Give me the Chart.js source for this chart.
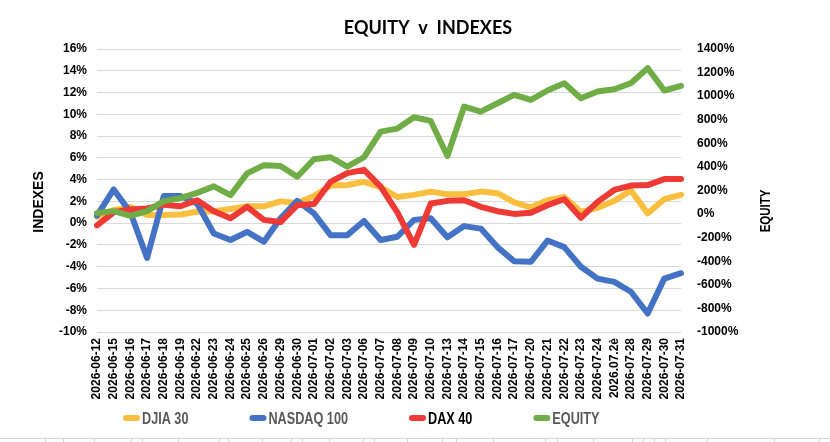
<!DOCTYPE html>
<html>
<head>
<meta charset="utf-8">
<script src="https://cdn.jsdelivr.net/npm/chart.js@4.4.1/dist/chart.umd.min.js"></script>
<style>
html,body{margin:0;padding:0;background:#ffffff;}
#wrap{width:830px;height:442px;position:relative;}
</style>
</head>
<body>
<div id="wrap"><canvas id="c"></canvas></div>
<script>
const categories = ["2026-06-12","2026-06-15","2026-06-16","2026-06-17","2026-06-18","2026-06-19","2026-06-22","2026-06-23","2026-06-24","2026-06-25","2026-06-26","2026-06-29","2026-06-30","2026-07-01","2026-07-02","2026-07-03","2026-07-06","2026-07-07","2026-07-08","2026-07-09","2026-07-10","2026-07-13","2026-07-14","2026-07-15","2026-07-16","2026-07-17","2026-07-20","2026-07-21","2026-07-22","2026-07-23","2026-07-24","2026.07.2è","2026-07-28","2026-07-29","2026-07-30","2026-07-31"];
const djia   = [0.6,1.2,1.5,0.75,0.75,0.8,1.05,1.1,1.3,1.55,1.55,2.0,1.85,2.5,3.45,3.5,3.8,3.3,2.4,2.6,2.9,2.65,2.65,2.9,2.75,1.9,1.45,2.1,2.4,1.05,1.4,2.05,3.0,0.9,2.2,2.6];
const nasdaq = [0.7,3.1,1.0,-3.2,2.5,2.5,1.8,-0.95,-1.55,-0.8,-1.7,0.45,2.05,0.9,-1.1,-1.1,0.2,-1.55,-1.25,0.3,0.45,-1.3,-0.27,-0.5,-2.2,-3.5,-3.55,-1.6,-2.2,-4.0,-5.1,-5.4,-6.3,-8.3,-5.1,-4.6];
const dax    = [-0.2,1.0,1.25,1.35,1.7,1.55,2.1,1.1,0.45,1.5,0.3,0.1,1.65,1.75,3.8,4.6,4.9,3.35,1.0,-2.0,1.8,2.05,2.1,1.5,1.1,0.85,0.95,1.65,2.2,0.5,1.95,3.05,3.45,3.5,4.05,4.05];
const equity = [10,25,-15,25,110,135,180,235,160,345,415,408,317,465,482,402,482,699,725,821,790,493,912,869,940,1011,968,1048,1110,983,1039,1059,1110,1238,1048,1088];
const seriesNames = ["DJIA 30","NASDAQ 100","DAX 40","EQUITY"];
const indexAxis  = {min:-10, max:16, step:2};       // left axis, %
const equityAxis = {min:-1000, max:1400, step:200}; // right axis, %
const chartTitle = "EQUITY  v  INDEXES";
const leftTitle = "INDEXES";
const rightTitle = "EQUITY";

// spreadsheet cell borders visible at the very bottom of the picture (decoration)
const sheetBorderX = [44.5,62.5,94.2,130.7,141.9,178.4,218.6,228.1,261.5,290.6,302.2,329.2,362.6,374.2,407,442,455.7,492.8,544.7,556.8,592.8,632,643.1,653.7,664.8,707.1,773.8,819.4];

const FONT = "'Liberation Sans', Arial, sans-serif";

const legendTextColors = ['#595959','#595959','#000000','#595959'];

const decor = {
  id:'decor',
  afterDraw(chart){
    const ctx = chart.ctx;
    ctx.save();
    // title
    ctx.fillStyle = '#000';
    ctx.font = "bold 18px Lato, 'Open Sans', sans-serif";
    ctx.textAlign = 'center';
    ctx.textBaseline = 'middle';
    ctx.fillText(chartTitle, 428, 28);
    // left axis title
    ctx.save();
    ctx.translate(39, 202);
    ctx.rotate(-Math.PI/2);
    ctx.font = "bold 14px " + FONT;
    ctx.fillText(leftTitle, 0, 0);
    ctx.restore();
    // right axis title (narrow look)
    ctx.save();
    ctx.translate(766, 211);
    ctx.rotate(-Math.PI/2);
    ctx.scale(0.82, 1);
    ctx.font = "bold 14px " + FONT;
    ctx.fillText(rightTitle, 0, 0);
    ctx.restore();
    // legend (narrow look)
    ctx.font = "bold 17px " + FONT;
    ctx.textAlign = 'left';
    const sx = 0.745;
    let x = 123;
    const ly = 418;
    chart.data.datasets.forEach((ds, i) => {
      ctx.strokeStyle = ds.borderColor;
      ctx.lineWidth = 6;
      ctx.lineCap = 'round';
      ctx.beginPath();
      ctx.moveTo(x + 3, ly);
      ctx.lineTo(x + 14, ly);
      ctx.stroke();
      ctx.save();
      ctx.translate(x + 19, ly + 1);
      ctx.scale(sx, 1);
      ctx.fillStyle = legendTextColors[i];
      ctx.fillText(ds.label, 0, 0);
      ctx.restore();
      x += 19 + ctx.measureText(ds.label).width * sx + 61;
    });
    // bottom sheet border
    ctx.strokeStyle = '#d6d6d6';
    ctx.lineWidth = 1;
    ctx.lineCap = 'butt';
    ctx.beginPath();
    ctx.moveTo(0, 438.5); ctx.lineTo(830, 438.5);
    sheetBorderX.forEach(bx => { ctx.moveTo(Math.round(bx)+0.5, 439); ctx.lineTo(Math.round(bx)+0.5, 442); });
    ctx.stroke();
    ctx.restore();
  }
};

const tickFont = {family: FONT, weight:'bold', size:12};

new Chart(document.getElementById('c'), {
  type:'line',
  data:{
    labels: categories,
    datasets:[
      {label:seriesNames[0], data:djia,   borderColor:'#FBBF3F', yAxisID:'y',  order:4},
      {label:seriesNames[1], data:nasdaq, borderColor:'#4472C4', yAxisID:'y',  order:3},
      {label:seriesNames[2], data:dax,    borderColor:'#EE3A35', yAxisID:'y',  order:2},
      {label:seriesNames[3], data:equity, borderColor:'#70AD47', yAxisID:'y1', order:1}
    ]
  },
  options:{
    responsive:true,
    maintainAspectRatio:false,
    animation:false,
    layout:{padding:{top:49, left:0, right:0, bottom:0}},
    elements:{
      line:{borderWidth:6, tension:0, borderJoinStyle:'round', borderCapStyle:'round', fill:false},
      point:{radius:0, hoverRadius:0}
    },
    plugins:{legend:{display:false}, title:{display:false}, tooltip:{enabled:false}},
    scales:{
      x:{
        grid:{display:false, drawTicks:false},
        border:{display:false},
        ticks:{autoSkip:false, maxRotation:90, minRotation:90, padding:6, color:'#000', font:tickFont},
        afterFit(s){ s.height = 110; }
      },
      y:{
        position:'left',
        min:indexAxis.min, max:indexAxis.max,
        ticks:{stepSize:indexAxis.step, padding:10, color:'#000', font:tickFont, callback:v => v + '%'},
        grid:{color:'#d9d9d9', lineWidth:1, drawTicks:false},
        border:{display:false},
        afterFit(s){ s.width = 97; }
      },
      y1:{
        position:'right',
        min:equityAxis.min, max:equityAxis.max,
        ticks:{stepSize:equityAxis.step, padding:16, color:'#000', font:tickFont, callback:v => v + '%'},
        grid:{display:false, drawTicks:false},
        border:{display:false},
        afterFit(s){ s.width = 149; }
      }
    }
  },
  plugins:[decor]
});
</script>
</body>
</html>
